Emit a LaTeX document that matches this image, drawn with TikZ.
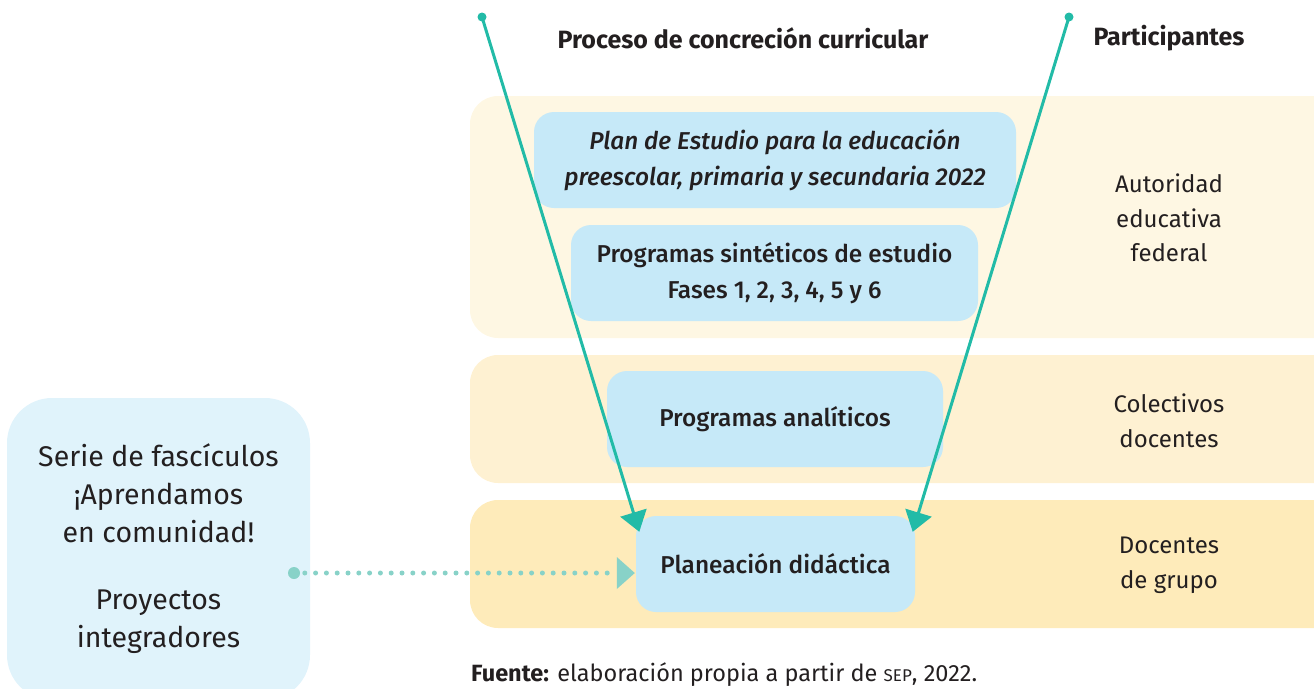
\documentclass[tikz,border=0pt]{standalone}
\usepackage{fontspec}
\setmainfont{Fira Sans}
\newfontfamily\medfont{Fira Sans Medium}
\usetikzlibrary{arrows.meta}
\definecolor{bandA}{HTML}{FEF7E3}
\definecolor{bandB}{HTML}{FEF1D2}
\definecolor{bandC}{HTML}{FEEBBA}
\definecolor{boxblue}{HTML}{C6E9F8}
\definecolor{sideblue}{HTML}{E0F3FB}
\definecolor{vline}{HTML}{22BBA7}
\definecolor{dotline}{HTML}{88D2C8}
\definecolor{ink}{HTML}{231F20}

\begin{document}
\begin{tikzpicture}[x=1pt,y=-1pt]
\tikzstyle{every node}+=[inner sep=0pt, text=ink]
\tikzstyle{band}=[rounded corners=28pt]
\tikzstyle{stage}=[fill=boxblue, rounded corners=20pt, align=center, minimum height=96pt, font=\medfont\fontsize{24.4}{36}\selectfont]
\tikzstyle{who}=[align=center, font=\fontsize{24}{34.5}\selectfont]
\tikzstyle{head}=[font=\bfseries\fontsize{25}{28}\selectfont]
\tikzstyle{flow}=[draw=vline, line width=3pt, -{Triangle[width=27pt,length=20pt]}]
\useasboundingbox (0,0) rectangle (1314,688);
\clip (0,0) rectangle (1314,688);
% bands
\fill [bandA, band] (470,96) rectangle (1345,338);
\fill [bandB, band] (470,355) rectangle (1345,483);
\fill [bandC, band] (470,500) rectangle (1345,628);
% headers
\node [head] (hproc) at (743,38) {Proceso de concreción curricular};
\node [head] (hpart) at (1169,38) {Participantes};
% stages
\node [stage, minimum width=482pt] (plan) at (775,160) {\itshape Plan de Estudio para la educación\\ \itshape preescolar, primaria y secundaria 2022};
\node [stage, minimum width=407pt] (sint) at (774.5,273) {Programas sintéticos de estudio\\ Fases 1, 2, 3, 4, 5 y 6};
\node [stage, minimum width=336pt] (anal) at (775,419) {Programas analíticos};
\node [stage, minimum width=279pt] (plane) at (775.5,564) {Planeación didáctica};
% participants
\node [who] (fed) at (1169,218) {Autoridad\\ educativa\\ federal};
\node [who] (col) at (1169,421) {Colectivos\\ docentes};
\node [who] (doc) at (1169,565.5) {Docentes\\ de grupo};
% side box
\node [fill=sideblue, rounded corners=45pt, minimum width=303pt, minimum height=302pt, align=center, font=\fontsize{28.5}{38}\selectfont] (serie) at (158.5,549)
  {Serie de fascículos\\ ¡Aprendamos\\ en comunidad!\\[29pt] Proyectos\\ integradores};
% connectors
\coordinate (ltop) at (482,17);
\coordinate (rtop) at (1069,17);
\coordinate (src) at (294,573);
\fill [vline] (ltop) circle (4.5);
\fill [vline] (rtop) circle (4.5);
\draw [flow] (ltop) -- ([shift={(3.5,16)}]plane.north west);
\draw [flow] (rtop) -- ([shift={(-2.5,16)}]plane.north east);
\fill [dotline] (src) circle (6);
\draw [dotline, line width=5pt, line cap=round, dash pattern=on 0pt off 10.8pt] (src) -- ([shift={(-22,9)}]plane.west);
\fill [dotline] ([shift={(-19,-7)}]plane.west) -- ([shift={(-1,9)}]plane.west) -- ([shift={(-19,25)}]plane.west) -- cycle;
% source
\node [anchor=west, font=\fontsize{23.5}{27}\selectfont] (fuente) at (471,675) {\textbf{Fuente:} elaboración propia a partir de {\fontsize{17}{27}\selectfont SEP}, 2022.};
\end{tikzpicture}
\end{document}
